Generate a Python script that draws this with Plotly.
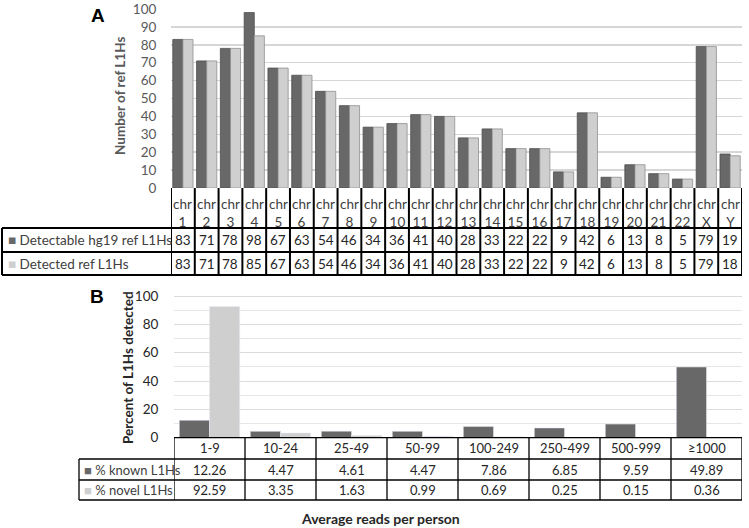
import plotly.graph_objects as go

W, H = 749, 528

# ---------------- data ----------------
chromosomes = ["1", "2", "3", "4", "5", "6", "7", "8", "9", "10", "11", "12",
               "13", "14", "15", "16", "17", "18", "19", "20", "21", "22", "X", "Y"]
detectable = [83, 71, 78, 98, 67, 63, 54, 46, 34, 36, 41, 40,
              28, 33, 22, 22, 9, 42, 6, 13, 8, 5, 79, 19]
detected = [83, 71, 78, 85, 67, 63, 54, 46, 34, 36, 41, 40,
            28, 33, 22, 22, 9, 42, 6, 13, 8, 5, 79, 18]
series_a = ["Detectable hg19 ref L1Hs", "Detected ref L1Hs"]

read_bins = ["1-9", "10-24", "25-49", "50-99", "100-249", "250-499", "500-999", "≥1000"]
known_pct = [12.26, 4.47, 4.61, 4.47, 7.86, 6.85, 9.59, 49.89]
novel_pct = [92.59, 3.35, 1.63, 0.99, 0.69, 0.25, 0.15, 0.36]
series_b = ["% known L1Hs", "% novel L1Hs"]

DARK = "#686868"
LIGHT = "#cfcfcf"
FONT = "Lato"


def fx(px):
    return px / W


def fy(py):
    return 1 - py / H


# ---------------- layout geometry (pixels) ----------------
A_left, A_right, A_bottom, A_top = 171, 742, 188, 9
A_ymax = 100.5
A_top_ext = A_bottom - (A_bottom - A_top) * A_ymax / 100
A_rows = [188, 228, 252, 275]
A_legend_left = 2
B_left, B_right, B_bottom, B_top = 174, 742, 437.7, 296
B_ymax = 101.0
B_top_ext = B_bottom - (B_bottom - B_top) * B_ymax / 100
B_rows = [437.7, 459, 480, 500]
B_legend_left = 79

fig = go.Figure()
xa = list(range(len(chromosomes)))
xb = list(range(len(read_bins)))

fig.add_trace(go.Bar(x=xa, y=detectable, name=series_a[0],
                     marker=dict(color=DARK, line=dict(color="#4e4e4e", width=0.8)),
                     xaxis="x", yaxis="y", showlegend=False))
fig.add_trace(go.Bar(x=xa, y=detected, name=series_a[1],
                     marker=dict(color=LIGHT, line=dict(color="#8f8f8f", width=0.8)),
                     xaxis="x", yaxis="y", showlegend=False))
fig.add_trace(go.Bar(x=xb, y=known_pct, name=series_b[0], marker=dict(color=DARK),
                     xaxis="x2", yaxis="y2", showlegend=False))
fig.add_trace(go.Bar(x=xb, y=novel_pct, name=series_b[1], marker=dict(color=LIGHT),
                     xaxis="x2", yaxis="y2", showlegend=False))

shapes = []
annotations = []


def ann(**kw):
    kw.setdefault("showarrow", False)
    kw.setdefault("xanchor", "center")
    kw.setdefault("yanchor", "middle")
    annotations.append(kw)


# ---------- Table A ----------
lw_a = 2
for i in range(len(chromosomes) + 1):
    shapes.append(dict(type="line", xref="x", yref="paper", x0=i - 0.5, x1=i - 0.5,
                       y0=fy(A_rows[0]), y1=fy(A_rows[-1]), line=dict(color="black", width=lw_a)))
for r in A_rows[1:]:
    shapes.append(dict(type="line", xref="paper", yref="paper", x0=fx(A_legend_left), x1=fx(A_right),
                       y0=fy(r), y1=fy(r), line=dict(color="black", width=lw_a)))
shapes.append(dict(type="line", xref="paper", yref="paper", x0=fx(A_legend_left), x1=fx(A_legend_left),
                   y0=fy(A_rows[1]), y1=fy(A_rows[-1]), line=dict(color="black", width=lw_a)))

for i, c in enumerate(chromosomes):
    ann(x=i, xref="x", y=fy(213), yref="paper", text="chr<br>" + c,
        font=dict(size=13.5, color="#404040", family=FONT))
    for vals, r in ((detectable, 1), (detected, 2)):
        yc = (A_rows[r] + A_rows[r + 1]) / 2
        ann(x=i, xref="x", y=fy(yc), yref="paper", text=str(vals[i]),
            font=dict(size=13.5, color="#262626", family=FONT))
for k, (name, col) in enumerate(zip(series_a, [DARK, LIGHT])):
    yc = (A_rows[k + 1] + A_rows[k + 2]) / 2
    ann(x=fx(6), xref="paper", y=fy(yc), yref="paper", xanchor="left",
        text="<span style='color:%s'>■</span> %s" % (col, name),
        font=dict(size=13.5, color="#404040", family=FONT))

# ---------- Table B ----------
lw_b = 1.3
for i in range(len(read_bins) + 1):
    shapes.append(dict(type="line", xref="x2", yref="paper", x0=i - 0.5, x1=i - 0.5,
                       y0=fy(B_rows[0]), y1=fy(B_rows[-1]), line=dict(color="black", width=lw_b)))
shapes.append(dict(type="line", xref="paper", yref="paper", x0=fx(B_left), x1=fx(B_right),
                   y0=fy(B_rows[0]), y1=fy(B_rows[0]), line=dict(color="black", width=lw_b)))
for r in B_rows[1:]:
    shapes.append(dict(type="line", xref="paper", yref="paper", x0=fx(B_legend_left), x1=fx(B_right),
                       y0=fy(r), y1=fy(r), line=dict(color="black", width=lw_b)))
shapes.append(dict(type="line", xref="paper", yref="paper", x0=fx(B_legend_left), x1=fx(B_legend_left),
                   y0=fy(B_rows[1]), y1=fy(B_rows[-1]), line=dict(color="black", width=lw_b)))

for i, b in enumerate(read_bins):
    ann(x=i, xref="x2", y=fy((B_rows[0] + B_rows[1]) / 2), yref="paper", text=b,
        font=dict(size=13, color="#262626", family=FONT))
    for vals, r in ((known_pct, 1), (novel_pct, 2)):
        yc = (B_rows[r] + B_rows[r + 1]) / 2
        ann(x=i, xref="x2", y=fy(yc), yref="paper", text="%.2f" % vals[i],
            font=dict(size=13, color="#262626", family=FONT))
for k, (name, col) in enumerate(zip(series_b, [DARK, LIGHT])):
    yc = (B_rows[k + 1] + B_rows[k + 2]) / 2
    ann(x=fx(82), xref="paper", y=fy(yc), yref="paper", xanchor="left",
        text="<span style='color:%s'>■</span> %s" % (col, name),
        font=dict(size=13, color="#404040", family=FONT))

# ---------- titles / panel labels ----------
ann(x=fx(98), y=fy(16), xref="paper", yref="paper", text="<b>A</b>",
    font=dict(size=19, color="black", family="Liberation Sans"))
ann(x=fx(97), y=fy(296), xref="paper", yref="paper", text="<b>B</b>",
    font=dict(size=19, color="black", family="Liberation Sans"))
ann(x=fx(120), y=fy(96), xref="paper", yref="paper", text="<b>Number of ref L1Hs</b>",
    textangle=-90, font=dict(size=13.5, color="#595959", family=FONT))
ann(x=fx(128), y=fy(368), xref="paper", yref="paper", text="<b>Percent of L1Hs detected</b>",
    textangle=-90, font=dict(size=13.5, color="#262626", family=FONT))
ann(x=fx(380), y=fy(518), xref="paper", yref="paper", text="<b>Average reads per person</b>",
    font=dict(size=14, color="#262626", family=FONT))

fig.update_layout(
    width=W, height=H, autosize=False,
    margin=dict(l=0, r=0, t=0, b=0, pad=0, autoexpand=False),
    paper_bgcolor="white", plot_bgcolor="white",
    barmode="group", bargap=0.15, bargroupgap=0,
    shapes=shapes, annotations=annotations,
    font=dict(family=FONT),
    xaxis=dict(domain=[fx(A_left), fx(A_right)], range=[-0.5, len(chromosomes) - 0.5], anchor="y",
               showticklabels=False, showgrid=False, zeroline=False, showline=False, automargin=False),
    yaxis=dict(domain=[fy(A_bottom), fy(A_top_ext)], range=[0, A_ymax], anchor="x",
               tickmode="array", tickvals=list(range(0, 101, 10)), ticklabeloverflow="allow",
               showgrid=True, gridcolor="#d6d6d6", gridwidth=1.5, zeroline=False, showline=False,
               tickfont=dict(size=13.5, color="#595959", family=FONT), ticks="outside", ticklen=11,
               tickcolor="rgba(0,0,0,0)", automargin=False),
    xaxis2=dict(domain=[fx(B_left), fx(B_right)], range=[-0.5, len(read_bins) - 0.5], anchor="y2",
                showticklabels=False, showgrid=False, zeroline=False, showline=False, automargin=False),
    yaxis2=dict(domain=[fy(B_bottom), fy(B_top_ext)], range=[0, B_ymax], anchor="x2",
                tickmode="array", tickvals=list(range(0, 101, 20)), ticklabeloverflow="allow",
                showgrid=True, gridcolor="#dcdcdc", gridwidth=1, zeroline=False, showline=False,
                minor=dict(tickmode="array", tickvals=list(range(10, 100, 20)), showgrid=True,
                           gridcolor="#e6e6e6", gridwidth=1),
                tickfont=dict(size=13.5, color="#262626", family=FONT), tickprefix="<b>", ticksuffix="</b>",
                ticks="outside", ticklen=12, tickcolor="rgba(0,0,0,0)", automargin=False),
)

fig.write_html("out.html", config={"displayModeBar": False, "staticPlot": True},
               post_script="document.body.style.margin='0';document.body.style.padding='0';")
